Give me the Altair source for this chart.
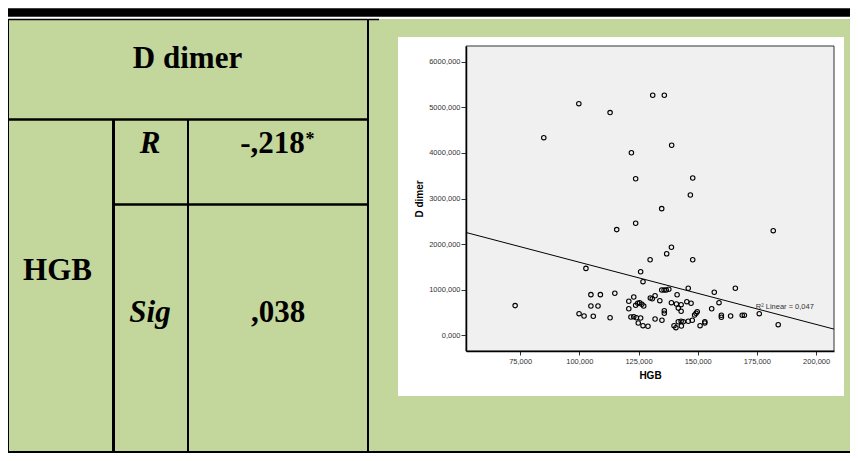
import altair as alt
import pandas as pd

# ---- scatter data (HGB vs D dimer) ----
hgb = [85.0, 99.8, 113.0, 131.0, 135.9, 139.0, 122.0, 123.8, 147.9, 146.9,
       134.8, 115.8, 102.8, 72.9, 104.9, 108.9, 115.0, 104.9, 107.9, 99.9,
       102.0, 105.9, 113.0, 123.8, 181.9, 138.9, 136.9, 129.9, 147.9, 125.9,
       126.9, 146.0, 165.9, 157.0, 159.0, 155.9, 176.0, 184.0, 160.0, 160.0,
       163.9, 168.8, 169.7, 120.9, 123.0, 120.9, 124.7, 125.5, 126.4, 127.2,
       123.8, 130.0, 130.8, 132.0, 134.0, 134.8, 135.8, 136.7, 137.8, 141.3,
       138.9, 141.0, 143.0, 145.4, 147.2, 135.9, 135.9, 121.8, 123.0, 124.1,
       125.9, 124.9, 126.9, 129.0, 132.0, 134.9, 140.0, 140.8, 141.8, 143.0,
       143.9, 146.0, 147.7, 149.8, 148.7, 149.3, 151.0, 153.0, 153.0, 141.8,
       143.0, 143.1]
ddimer = [4335, 5080, 4885, 5265, 5265, 4170, 4005, 3435, 3450, 3080,
          2780, 2320, 1470, 655, 895, 895, 925, 645, 645, 478,
          427, 421, 390, 2460, 2297, 1933, 1790, 1661, 1661, 1398,
          1179, 1034, 1034, 947, 719, 587, 478, 237, 443, 399,
          427, 443, 443, 749, 844, 587, 706, 719, 684, 646,
          662, 822, 806, 872, 763, 997, 997, 997, 1012, 894,
          719, 690, 675, 741, 706, 543, 487, 405, 412, 390,
          384, 274, 215, 202, 362, 333, 215, 171, 302, 311,
          302, 311, 333, 522, 449, 487, 215, 302, 274, 600,
          530, 208]

x_ticks = [75, 100, 125, 150, 175, 200]
y_ticks = [0, 1000, 2000, 3000, 4000, 5000, 6000]
x_domain = [52.15, 207.56]
y_domain = [-340, 6344]
r2_text = ["R\u00b2 Linear = 0,047"]
r2_pos_hgb = [174.5]
r2_pos_dd = [625]

# ---- table texts ----
table_labels = ["D dimer", "R", "-,218", "*", "HGB", "Sig", ",038"]

# ---- layout constants (page pixels) ----
OX, OY = 466, 46          # plot-area origin on the page
PW, PH = 368, 305         # plot-area size
RIGHT, BOTTOM = 850, 453  # last drawable page pixel (8px page margin)
GREEN = "#c3d69b"

one = alt.Data(values=[{"k": 1}])


def rect(x1, y1, x2, y2, fill, **kw):
    return alt.Chart(one).mark_rect(fill=fill, **kw).encode(
        x=alt.value(x1 - OX), x2=alt.value(x2 - OX),
        y=alt.value(y1 - OY), y2=alt.value(y2 - OY))


def rule(x1, y1, x2, y2, w):
    return alt.Chart(one).mark_rule(color="#000000", strokeWidth=w).encode(
        x=alt.value(x1 - OX), x2=alt.value(x2 - OX),
        y=alt.value(y1 - OY), y2=alt.value(y2 - OY))


def label(txt, cx, base, size=31, style="normal", align="center"):
    return alt.Chart(one).mark_text(
        text=txt, font="Liberation Serif", fontSize=size, fontWeight="bold",
        fontStyle=style, align=align, baseline="alphabetic", color="#000000"
    ).encode(x=alt.value(cx - OX), y=alt.value(base - OY))


decor = [
    rect(8, 19, RIGHT, BOTTOM, GREEN),
    rect(8, 8.3, RIGHT, 16.7, "#000000"),
    rule(8, 19.5, 379, 19.5, 1.5),
    rule(8.5, 19, 8.5, BOTTOM, 1),
    rule(8, 119.5, 368, 119.5, 2.5),
    rule(113.5, 119, 113.5, BOTTOM, 3),
    rule(188, 119, 188, BOTTOM, 2),
    rule(113, 204.5, 368, 204.5, 2.5),
    rule(368, 19, 368, BOTTOM, 2),
    rule(8, BOTTOM - 1, RIGHT, BOTTOM - 1, 2),
    rect(398, 37, 844, 396, "#ffffff"),
    rect(466, 46, 834, 351, "#f0f0f0", stroke="#333333", strokeWidth=1),
]

texts = [
    label(table_labels[0], 187.5, 67.5),
    label(table_labels[1], 150, 153, style="italic"),
    label(table_labels[2], 272.5, 153),
    label(table_labels[3], 310, 145, size=18),
    label(table_labels[4], 57.5, 280),
    label(table_labels[5], 150, 322, style="italic"),
    label(table_labels[6], 278, 322),
]

fmt = "replace(format(datum.value, '.3f'), '.', ',')"
xs = alt.Scale(domain=x_domain, nice=False, zero=False)
ys = alt.Scale(domain=y_domain, nice=False, zero=False)
common_axis = dict(
    labelExpr=fmt, labelFont="Liberation Sans", labelFontSize=7.5,
    labelColor="#333333", tickColor="#333333", tickWidth=1,
    domainColor="#000000", domainWidth=1.5, grid=False,
    titleFont="Liberation Sans", titleFontSize=10, titleFontWeight="bold",
    titleColor="#000000", zindex=1, labelFlush=False, labelOverlap=False)
x_axis = alt.Axis(values=x_ticks, tickSize=4, labelPadding=2, titlePadding=6,
                  **common_axis)
y_axis = alt.Axis(values=y_ticks, tickSize=5, labelPadding=1, titlePadding=4,
                  **common_axis)

df = pd.DataFrame({"hgb": hgb, "dd": ddimer})

points = alt.Chart(df).mark_point(
    shape="circle", filled=False, size=20, strokeWidth=1.1, color="#000000",
    opacity=1
).encode(
    x=alt.X("hgb:Q", scale=xs, axis=x_axis, title="HGB"),
    y=alt.Y("dd:Q", scale=ys, axis=y_axis, title="D dimer"),
)

fit = alt.Chart(df).transform_regression(
    "hgb", "dd", extent=x_domain
).mark_line(color="#000000", strokeWidth=1).encode(
    x=alt.X("hgb:Q", scale=xs, axis=x_axis, title="HGB"),
    y=alt.Y("dd:Q", scale=ys, axis=y_axis, title="D dimer"),
)

r2 = alt.Chart(pd.DataFrame({"hgb": r2_pos_hgb, "dd": r2_pos_dd,
                             "t": r2_text})).mark_text(
    align="left", baseline="middle", font="Liberation Sans", fontSize=7.5,
    color="#333333"
).encode(
    x=alt.X("hgb:Q", scale=xs, axis=x_axis, title="HGB"),
    y=alt.Y("dd:Q", scale=ys, axis=y_axis, title="D dimer"),
    text="t:N",
)

chart = alt.layer(*decor, points, fit, r2, *texts).properties(
    width=PW, height=PH,
    autosize=alt.AutoSizeParams(type="none"),
    padding={"left": OX - 8, "top": OY - 8, "right": RIGHT - OX - PW,
             "bottom": BOTTOM - OY - PH},
    background="#ffffff",
).configure_view(strokeWidth=0)

chart.save("out.html", embed_options={"renderer": "svg", "actions": False})
